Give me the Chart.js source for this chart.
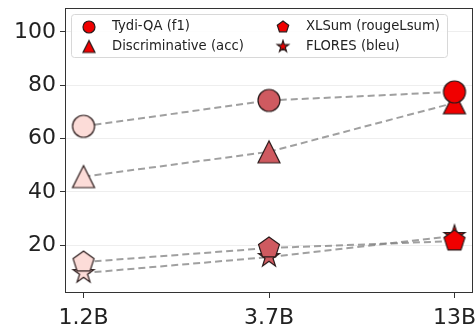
<!DOCTYPE html>
<html>
<head>
<meta charset="utf-8">
<script src="https://cdn.jsdelivr.net/npm/chart.js@4.4.0/dist/chart.umd.min.js"></script>
<style>
  html, body { margin: 0; padding: 0; background: #fff; }
  #wrap { width: 475px; height: 325px; }
</style>
</head>
<body>
<div id="wrap"><canvas id="scaleChart" width="475" height="325"></canvas></div>
<script>
var modelSizes = ['1.2B', '3.7B', '13B'];
var tydiQA = [64.6, 74.3, 77.5];
var discriminative = [45.7, 55.0, 73.4];
var xlsum = [13.6, 18.9, 21.5];
var flores = [9.5, 15.5, 23.4];
var yTicks = [20, 40, 60, 80, 100];

var sizeColors = ['#fcdcd8', '#cf5a60', '#f00000'];
var edgeColor = '#2a1a1a';

// marker shapes like matplotlib: o ^ p *
function drawShape(ctx, shape, r) {
    ctx.beginPath();
    if (shape === 'circle') {
        ctx.arc(0, 0, r, 0, Math.PI * 2);
    } else if (shape === 'triangle') {
        ctx.moveTo(0, -r);
        ctx.lineTo(r, r);
        ctx.lineTo(-r, r);
    } else if (shape === 'pentagon') {
        for (var i = 0; i < 5; i++) {
            var a = -Math.PI / 2 + i * 2 * Math.PI / 5;
            ctx.lineTo(Math.cos(a) * r, Math.sin(a) * r);
        }
    } else if (shape === 'star') {
        for (var j = 0; j < 10; j++) {
            var b = -Math.PI / 2 + j * Math.PI / 5;
            var rr = j % 2 === 0 ? r : r * 0.381966;
            ctx.lineTo(Math.cos(b) * rr, Math.sin(b) * rr);
        }
    }
    ctx.closePath();
}

function makeMarker(shape, color, size) {
    var c = document.createElement('canvas');
    var s = Math.ceil(size + 4);
    c.width = s;
    c.height = s;
    var ctx = c.getContext('2d');
    ctx.translate(s / 2, s / 2);
    drawShape(ctx, shape, size / 2);
    ctx.fillStyle = color;
    ctx.fill();
    ctx.lineWidth = 1.2;
    ctx.strokeStyle = edgeColor;
    ctx.lineJoin = 'miter';
    ctx.stroke();
    return c;
}

function markers(shape) {
    return sizeColors.map(function(col) { return makeMarker(shape, col, 22); });
}

function toPoints(vals) {
    return vals.map(function(v, i) { return {x: i, y: v}; });
}

var seriesList = [
    {label: 'Tydi-QA (f1)', data: tydiQA, shape: 'circle'},
    {label: 'Discriminative (acc)', data: discriminative, shape: 'triangle'},
    {label: 'XLSum (rougeLsum)', data: xlsum, shape: 'pentagon'},
    {label: 'FLORES (bleu)', data: flores, shape: 'star'}
];

var datasets = seriesList.map(function(s) {
    return {
        label: s.label,
        data: toPoints(s.data),
        shape: s.shape,
        borderColor: 'rgba(128,128,128,0.75)',
        borderWidth: 2,
        borderDash: [7, 4],
        fill: false,
        tension: 0,
        pointStyle: markers(s.shape),
        pointRadius: 11,
        pointHoverRadius: 11
    };
});

// frame around plot + legend box inside
var framePlugin = {
    id: 'frame',
    afterDraw: function(chart) {
        var ctx = chart.ctx;
        var a = chart.chartArea;
        ctx.save();
        ctx.strokeStyle = '#333';
        ctx.lineWidth = 1;
        ctx.strokeRect(a.left + 0.5, a.top + 0.5, a.right - a.left - 1, a.bottom - a.top - 1);

        // legend
        var lx = a.left + 6, ly = a.top + 6, lw = 376, lh = 43;
        ctx.fillStyle = 'rgba(255,255,255,0.85)';
        ctx.strokeStyle = '#d8d8d8';
        ctx.beginPath();
        ctx.roundRect(lx + 0.5, ly + 0.5, lw, lh, 3);
        ctx.fill();
        ctx.stroke();

        ctx.font = '13.2px "DejaVu Sans"';
        ctx.fillStyle = '#222';
        ctx.textBaseline = 'middle';
        ctx.textAlign = 'left';
        chart.data.datasets.forEach(function(ds, i) {
            var col = Math.floor(i / 2), row = i % 2;
            var mx = lx + 18 + col * 194;
            var my = ly + 13 + row * 19.5;
            var m = makeMarker(ds.shape, '#f00000', 12);
            ctx.drawImage(m, mx - m.width / 2, my - m.height / 2);
            ctx.fillText(ds.label, mx + 23, my);
        });
        ctx.restore();
    }
};

var ctx = document.getElementById('scaleChart').getContext('2d');
var scaleChart = new Chart(ctx, {
    type: 'line',
    data: { datasets: datasets },
    plugins: [framePlugin],
    options: {
        responsive: false,
        animation: false,
        events: [],
        layout: {
            autoPadding: false,
            padding: { top: 8, right: 2, left: 0, bottom: 0 }
        },
        plugins: {
            legend: { display: false },
            tooltip: { enabled: false }
        },
        scales: {
            x: {
                type: 'linear',
                min: -0.1,
                max: 2.1,
                afterBuildTicks: function(axis) {
                    axis.ticks = modelSizes.map(function(_, i) { return {value: i}; });
                },
                afterFit: function(scale) {
                    scale.height = 32;
                    scale.paddingLeft = 0;
                    scale.paddingRight = 0;
                },
                border: { display: false },
                grid: { drawOnChartArea: false, tickLength: 5, tickColor: '#333' },
                ticks: {
                    padding: 7,
                    maxRotation: 0,
                    autoSkip: false,
                    color: '#222',
                    font: { family: 'DejaVu Sans', size: 22 },
                    callback: function(v) { return modelSizes[v]; }
                }
            },
            y: {
                min: 2,
                max: 109,
                afterBuildTicks: function(axis) {
                    axis.ticks = yTicks.map(function(v) { return {value: v}; });
                },
                afterFit: function(scale) {
                    scale.width = 65;
                    scale.paddingTop = 0;
                    scale.paddingBottom = 0;
                },
                border: { display: false },
                grid: { color: '#eeeeee', lineWidth: 1, tickLength: 5, tickColor: '#333' },
                ticks: {
                    padding: 4,
                    color: '#222',
                    font: { family: 'DejaVu Sans', size: 22 }
                }
            }
        }
    }
});
</script>
</body>
</html>
